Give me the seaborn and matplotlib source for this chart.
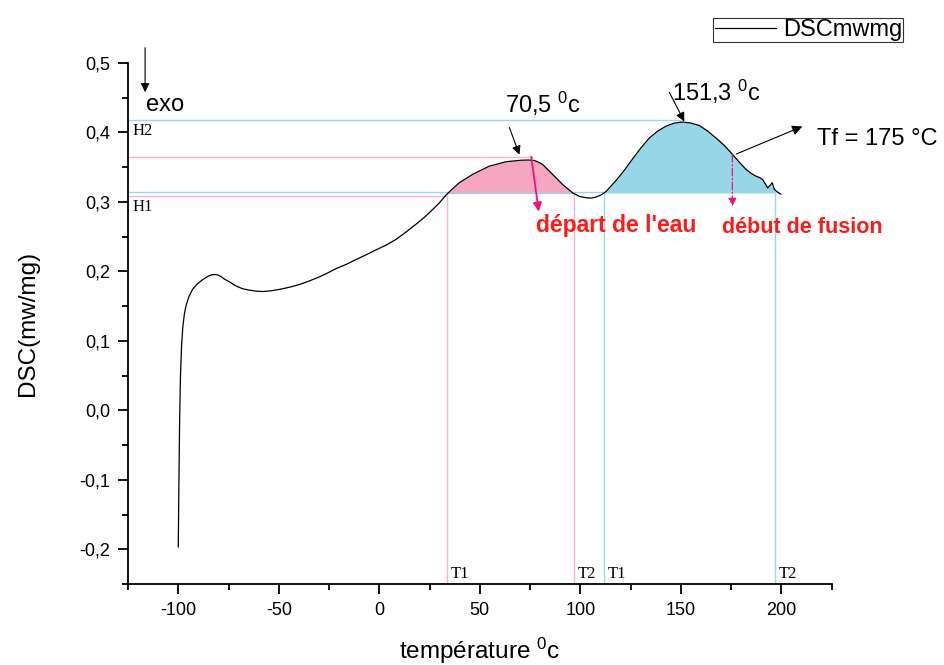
import numpy as np
import pandas as pd
import matplotlib
matplotlib.use("Agg")
import matplotlib.pyplot as plt
from matplotlib.ticker import MultipleLocator, FuncFormatter
import seaborn as sns

# ---- data ----
temperature = [-100, -99.7, -99.3, -98.9, -98.4, -97.8, -97.0, -96.2, -94.8, -92.9,
               -90.5, -87.9, -85.5, -83.5, -82.1, -80.5, -79, -77.1, -74, -71.3, -68, -64.7,
               -61, -58, -54, -49.8, -45, -39.8, -35, -29.9, -25.5, -21.5, -16.5,
               -11.6, -6.5, -1.6, 3.5, 8.3, 13, 18.3, 22.5, 26.5, 30, 33.2, 36.5,
               39.8, 46.4, 54.7, 63, 70.5, 74, 77.1, 79.3, 81.2, 86.2, 91.2, 96.2,
               99.5, 102.8, 105.3, 107.8, 110.3, 112.8, 117.8, 122, 126, 130.2,
               134.3, 138.5, 142.6, 146.8, 150.9, 155, 159.2, 163.3, 167.5, 171.7,
               175.8, 179.1, 182.4, 185, 187.4, 189.2, 190.7, 192, 193.2, 194.4,
               195.4, 196.5, 198.2, 199.8]
dsc = [-0.197, -0.11, -0.01, 0.05, 0.09, 0.118, 0.138, 0.150, 0.163, 0.174,
       0.182, 0.188, 0.1925, 0.195, 0.1955, 0.195, 0.193, 0.189, 0.184, 0.179, 0.175, 0.173,
       0.1715, 0.171, 0.172, 0.174, 0.177, 0.181, 0.186, 0.192, 0.198, 0.204, 0.210,
       0.217, 0.224, 0.231, 0.238, 0.246, 0.256, 0.268, 0.278, 0.289, 0.299, 0.310, 0.319,
       0.3276, 0.3396, 0.3515, 0.3578, 0.360, 0.3603, 0.3597, 0.357, 0.354, 0.3396, 0.325, 0.313,
       0.308, 0.306, 0.3055, 0.307, 0.310, 0.315, 0.331, 0.346, 0.362, 0.378,
       0.392, 0.402, 0.409, 0.4135, 0.415, 0.4135, 0.410, 0.402, 0.392, 0.381,
       0.368, 0.357, 0.3468, 0.341, 0.337, 0.335, 0.332, 0.326, 0.320, 0.324,
       0.3276, 0.318, 0.314, 0.311]

water_T = [33.9, 97.0]          # T1, T2 (water departure)
fusion_T = [112.0, 197.0]       # T1, T2 (fusion)
water_H = [0.3084, 0.3645]      # H1, H2 levels (pink)
fusion_H = [0.314, 0.4175]      # H1, H2 levels (blue)
water_base = 0.312
fusion_base = 0.313
peak_fusion_x = 151.3

x_ticks = [-100, -50, 0, 50, 100, 150, 200]
y_ticks = [-0.2, -0.1, 0.0, 0.1, 0.2, 0.3, 0.4, 0.5]

PINK_LINE = "#f9b3cb"
PINK_FILL = "#f7a6c1"
BLUE_LINE = "#9ad6e8"
BLUE_FILL = "#96d6e6"
RED = "#ff1a1a"
MAGENTA = "#f0137a"

df = pd.DataFrame({"T": temperature, "DSC": dsc})

sns.set_theme(style="ticks")
plt.rcParams["font.family"] = ["Liberation Sans", "DejaVu Sans"]
plt.rcParams["mathtext.fontset"] = "custom"
plt.rcParams["mathtext.rm"] = "Liberation Sans"
plt.rcParams["mathtext.it"] = "Liberation Sans:italic"
plt.rcParams["text.color"] = "black"
plt.rcParams["axes.labelcolor"] = "black"
plt.rcParams["xtick.color"] = "black"
plt.rcParams["ytick.color"] = "black"

fig = plt.figure(figsize=(9.44, 6.65), dpi=100)
ax = fig.add_axes([0.1356, 0.1218, 0.881 - 0.1356, 0.9053 - 0.1218])

x = np.array(temperature)
y = np.array(dsc)

# fills
mw = (x >= 33.0) & (x <= water_T[1])
ax.fill_between(x, water_base, y, where=mw & (y >= water_base - 0.002),
                interpolate=True, color=PINK_FILL, lw=0, zorder=1)
mf = (x >= 109.0)
ax.fill_between(x, fusion_base, y, where=mf & (y >= fusion_base),
                interpolate=True, color=BLUE_FILL, lw=0, zorder=1)

# reference horizontal lines
xmin, xmax = -125, 225
ax.plot([xmin, fusion_T[1]], [fusion_H[0]] * 2, color=BLUE_LINE, lw=1.0, zorder=2)
ax.plot([xmin, peak_fusion_x], [fusion_H[1]] * 2, color=BLUE_LINE, lw=1.0, zorder=2)
ax.plot([xmin, water_T[0]], [water_H[0]] * 2, color=PINK_LINE, lw=1.0, zorder=2)
ax.plot([xmin, 76.0], [water_H[1]] * 2, color=PINK_LINE, lw=1.0, zorder=2)

# vertical lines
for t in water_T:
    ax.plot([t, t], [-0.25, water_base], color=PINK_LINE, lw=1.0, zorder=2)
for t in fusion_T:
    ax.plot([t, t], [-0.25, fusion_base], color=BLUE_LINE, lw=1.0, zorder=2)

# curve
sns.lineplot(data=df, x="T", y="DSC", sort=False, color="black", lw=0.9,
             ax=ax, label="DSCmwmg", zorder=3)

ax.set_xlim(xmin, xmax)
ax.set_ylim(-0.25, 0.5)
ax.set_xticks(x_ticks)
ax.set_yticks(y_ticks)
ax.xaxis.set_minor_locator(MultipleLocator(25))
ax.yaxis.set_minor_locator(MultipleLocator(0.05))
ax.yaxis.set_major_formatter(FuncFormatter(lambda v, p: f"{v:.1f}".replace(".", ",").replace("-0,0", "0,0")))
ax.xaxis.set_major_formatter(FuncFormatter(lambda v, p: f"{v:.0f}"))
ax.tick_params(which="major", length=7, width=1.3, labelsize=13, direction="out", pad=6, colors="black")
ax.tick_params(which="minor", length=4.5, width=1.3, direction="out", colors="black")
for s in ["top", "right"]:
    ax.spines[s].set_visible(False)
for s in ["left", "bottom"]:
    ax.spines[s].set_linewidth(1.3)
    ax.spines[s].set_color("black")

ax.set_xlabel("température $^{0}$c", fontsize=17.5, labelpad=12)
ax.set_ylabel("DSC(mw/mg)", fontsize=17.5, labelpad=29)

# legend
leg = ax.legend(loc="upper right", bbox_to_anchor=(0.957, 0.973),
                bbox_transform=fig.transFigure, frameon=True, fancybox=False,
                fontsize=17, handlelength=2.6, borderpad=0.05, handletextpad=0.3,
                borderaxespad=0)
leg.get_frame().set_edgecolor("black")
leg.get_frame().set_linewidth(0.8)
for t in leg.get_texts():
    t.set_color("black")

# labels H / T
serif = ["Liberation Serif", "DejaVu Serif"]
ax.text(-123, fusion_H[1] - 0.004, "H2", family=serif, fontsize=12, va="top", ha="left")
ax.text(-123, water_H[0] - 0.004, "H1", family=serif, fontsize=12, va="top", ha="left")
for t, lab in zip(water_T + fusion_T, ["T1", "T2", "T1", "T2"]):
    ax.text(t + 1.5, -0.247, lab, family=serif, fontsize=12, va="bottom", ha="left")

arw = dict(arrowstyle="-|>", color="black", lw=0.8, mutation_scale=13, shrinkA=0, shrinkB=0)

ax.annotate("", xy=(-116.5, 0.458), xytext=(-116.5, 0.522),
            arrowprops=arw, annotation_clip=False)
ax.text(-116.0, 0.44, "exo", fontsize=17, va="center", ha="left")

ax.annotate("", xy=(69.7, 0.368), xytext=(64.7, 0.407), arrowprops=arw)
ax.text(62.5, 0.441, "70,5 $^{0}$c", fontsize=17, va="center", ha="left")

ax.annotate("", xy=(79.3, 0.286), xytext=(75.6, 0.365),
            arrowprops=dict(arrowstyle="-|>", color=MAGENTA, lw=1.3, mutation_scale=13,
                            shrinkA=0, shrinkB=0))
ax.text(78.0, 0.266, "départ de l'eau", fontsize=16.5, fontweight="bold", color=RED,
        va="center", ha="left")

ax.annotate("", xy=(151.7, 0.416), xytext=(144.3, 0.4575), arrowprops=arw)
ax.text(145.5, 0.458, "151,3 $^{0}$c", fontsize=17, va="center", ha="left")

ax.annotate("", xy=(210.4, 0.4086), xytext=(177.6, 0.369),
            arrowprops=dict(arw, mutation_scale=15), annotation_clip=False)
ax.text(217.5, 0.39, "Tf = 175 °C", fontsize=17, va="center", ha="left")

ax.annotate("", xy=(175.6, 0.2935), xytext=(175.6, 0.368),
            arrowprops=dict(arrowstyle="-|>", color=MAGENTA, lw=0.9, ls=(0, (6, 2, 1, 2)),
                            mutation_scale=12, shrinkA=0, shrinkB=0))
ax.text(170.5, 0.263, "début de fusion", fontsize=15.5, fontweight="bold", color=RED,
        va="center", ha="left")

fig.savefig("out.png", dpi=100)
